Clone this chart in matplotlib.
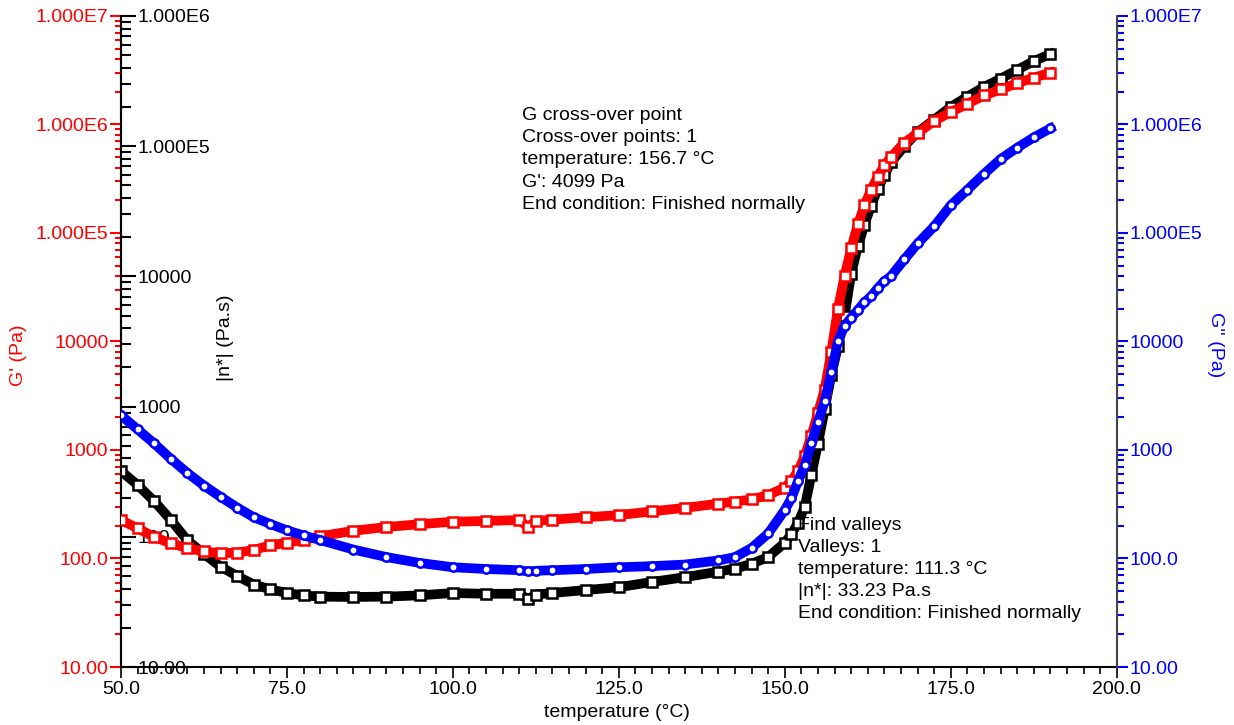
import numpy as np
import matplotlib
matplotlib.use("Agg")
import matplotlib.pyplot as plt
from matplotlib.ticker import FixedLocator, FuncFormatter, MultipleLocator, LogLocator

plt.rcParams['font.family'] = ['Liberation Sans', 'DejaVu Sans']

# temperature (°C)
temperature = [50, 52.5, 55, 57.5, 60, 62.5, 65, 67.5, 70, 72.5, 75, 77.5, 80, 85, 90, 95,
               100, 105, 110, 111.3, 112.5, 115, 120, 125, 130, 135, 140, 142.5, 145, 147.5,
               150, 151, 152, 153, 154, 155, 156, 157, 158, 159, 160, 161, 162, 163, 164,
               165, 166, 168, 170, 172.5, 175, 177.5, 180, 182.5, 185, 187.5, 190]

# G' (Pa) - storage modulus
g_storage = [226, 190, 158, 138, 125, 116, 112, 113, 120, 132, 140, 148, 160, 180, 195, 207,
             218, 222, 226, 195, 222, 228, 240, 251, 272, 293, 320, 335, 350, 385,
             450, 520, 640, 880, 1350, 2200, 3600, 8000, 20000, 40000, 72000, 120000, 180000, 250000, 330000,
             420000, 500000, 680000, 830000, 1080000, 1300000, 1550000, 1850000, 2100000, 2400000, 2700000, 3000000]

# |n*| (Pa.s) - complex viscosity
visc = [320, 250, 188, 135, 94, 74, 59, 50, 43, 39.5, 37, 35.5, 34.7, 34.5, 34.7, 35.5,
        37, 36.5, 36.5, 33.2, 36, 37, 39, 41, 45, 49, 54, 57, 62, 70,
        90, 105, 128, 170, 300, 520, 950, 1750, 2900, 5000, 10500, 17000, 25000, 35000, 47000,
        60000, 75000, 100000, 128000, 160000, 200000, 240000, 285000, 330000, 385000, 450000, 510000]

# G'' (Pa) - loss modulus
g_loss = [2090, 1550, 1150, 830, 615, 470, 370, 295, 240, 208, 182, 163, 148, 121, 103, 91,
          83, 80, 78, 76, 77, 78, 80, 83, 85, 88, 96, 103, 125, 170,
          280, 360, 520, 720, 1150, 1800, 2800, 5200, 10000, 14000, 16500, 19500, 23000, 26000, 31000,
          36000, 40000, 57000, 80000, 115000, 180000, 250000, 350000, 480000, 610000, 760000, 920000]

lbl_mod = {1e7: "1.000E7", 1e6: "1.000E6", 1e5: "1.000E5", 1e4: "10000", 1e3: "1000", 1e2: "100.0", 1e1: "10.00"}
lbl_visc = {1e6: "1.000E6", 1e5: "1.000E5", 1e4: "10000", 1e3: "1000", 1e2: "100", 1e1: "10.00"}

fig = plt.figure(figsize=(12.34, 7.25), dpi=100)
ax = fig.add_axes([0.098, 0.08, 0.807, 0.898])
ax_n = ax.twinx()
ax_b = ax.twinx()

# drawing order: viscosity axis at the bottom
ax_n.set_zorder(0)
ax.set_zorder(1)
ax_b.set_zorder(2)
ax.patch.set_visible(False)
ax_b.patch.set_visible(False)

# --- G' axis (red, left)
ax.set_xlim(50, 200)
ax.set_yscale('log')
ax.set_ylim(10, 1e7)
ax.yaxis.set_major_locator(FixedLocator(list(lbl_mod.keys())))
ax.yaxis.set_major_formatter(FuncFormatter(lambda v, p: lbl_mod.get(round(v, 3), "")))
ax.yaxis.set_minor_locator(LogLocator(base=10, subs=np.arange(2, 10)))
ax.yaxis.set_minor_formatter(FuncFormatter(lambda v, p: ""))
ax.tick_params(axis='y', which='major', colors='red', length=8, width=1.5, labelsize=14, pad=1)
ax.tick_params(axis='y', which='minor', colors='red', length=4, width=1.5)
for s in ['top', 'right']:
    ax.spines[s].set_visible(False)
ax.spines['left'].set_linewidth(1.5)
ax.spines['bottom'].set_linewidth(1.5)

ax.xaxis.set_major_locator(MultipleLocator(25))
ax.xaxis.set_minor_locator(MultipleLocator(2.5))
ax.xaxis.set_major_formatter(FuncFormatter(lambda v, p: "%.1f" % v))
ax.tick_params(axis='x', which='major', length=8, width=1.2, labelsize=14, pad=2)
ax.tick_params(axis='x', which='minor', length=5, width=1.2)

# --- |n*| axis (black, inside at left)
ax_n.set_yscale('log')
ax_n.set_ylim(10, 1e6)
ax_n.spines['right'].set_position(('axes', 0))
ax_n.spines['right'].set_linewidth(1.5)
for s in ['top', 'left', 'bottom']:
    ax_n.spines[s].set_visible(False)
ax_n.yaxis.set_major_locator(FixedLocator(list(lbl_visc.keys())))
ax_n.yaxis.set_major_formatter(FuncFormatter(lambda v, p: lbl_visc.get(round(v, 3), "")))
ax_n.yaxis.set_minor_locator(LogLocator(base=10, subs=np.arange(2, 10)))
ax_n.yaxis.set_minor_formatter(FuncFormatter(lambda v, p: ""))
ax_n.tick_params(axis='y', which='major', colors='black', length=11, width=1.5, labelsize=14, pad=1)
ax_n.tick_params(axis='y', which='minor', colors='black', length=7, width=1.5)

# --- G'' axis (blue, right)
ax_b.set_yscale('log')
ax_b.set_ylim(10, 1e7)
for s in ['top', 'left', 'bottom']:
    ax_b.spines[s].set_visible(False)
ax_b.spines['right'].set_color('#444444')
ax_b.spines['right'].set_linewidth(1.5)
ax_b.yaxis.set_major_locator(FixedLocator(list(lbl_mod.keys())))
ax_b.yaxis.set_major_formatter(FuncFormatter(lambda v, p: lbl_mod.get(round(v, 3), "")))
ax_b.yaxis.set_minor_locator(LogLocator(base=10, subs=np.arange(2, 10)))
ax_b.yaxis.set_minor_formatter(FuncFormatter(lambda v, p: ""))
ax_b.tick_params(axis='y', which='major', colors='blue', length=8, width=1.5, labelsize=14, pad=1)
ax_b.tick_params(axis='y', which='minor', colors='blue', length=5, width=1.5)

# --- data
ax_n.plot(temperature, visc, color='black', lw=7, marker='s', ms=6.5, mfc='white', mew=1.8, zorder=3)
ax.plot(temperature, g_storage, color='red', lw=7, marker='s', ms=6.5, mfc='white', mew=1.8, zorder=3)
ax_b.plot(temperature, g_loss, color='blue', lw=7, marker='o', ms=6, mfc='white', mew=1.8, zorder=3)

# --- axis titles
fig.text(0.5, 0.017, "temperature (°C)", ha='center', va='center', fontsize=14)
fig.text(0.0146, 0.51, "G' (Pa)", color='red', rotation=90, ha='center', va='center', fontsize=14)
fig.text(0.183, 0.534, "|n*| (Pa.s)", color='black', rotation=90, ha='center', va='center', fontsize=14)
fig.text(0.985, 0.524, "G'' (Pa)", color='blue', rotation=270, ha='center', va='center', fontsize=14)

# --- analysis notes
ax_b.text(0.4026, 0.860, "G cross-over point\nCross-over points: 1\ntemperature: 156.7 °C\nG': 4099 Pa\nEnd condition: Finished normally",
          transform=ax_b.transAxes, ha='left', va='top', fontsize=14, linespacing=1.4, zorder=1)
ax_b.text(0.680, 0.231, "Find valleys\nValleys: 1\ntemperature: 111.3 °C\n|n*|: 33.23 Pa.s\nEnd condition: Finished normally",
          transform=ax_b.transAxes, ha='left', va='top', fontsize=14, linespacing=1.4, zorder=1)

plt.savefig("out.png", dpi=100, facecolor='white')
